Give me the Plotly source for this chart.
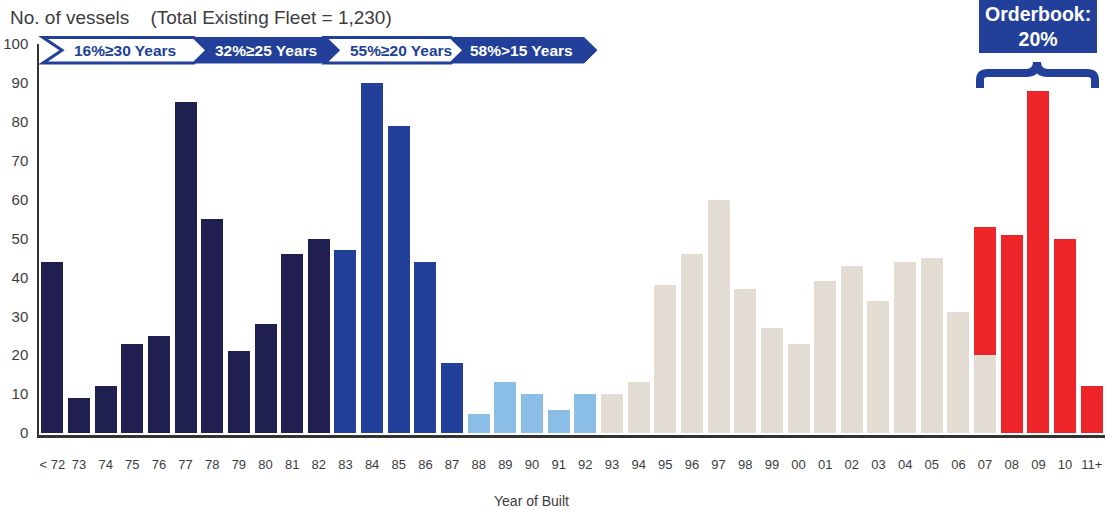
import plotly.graph_objects as go

# ---- data -------------------------------------------------------------
years = ["< 72", "73", "74", "75", "76", "77", "78", "79", "80", "81", "82",
         "83", "84", "85", "86", "87",
         "88", "89", "90", "91", "92",
         "93", "94", "95", "96", "97", "98", "99", "00", "01", "02", "03",
         "04", "05", "06", "07",
         "08", "09", "10", "11+"]

existing = [44, 9, 12, 23, 25, 85, 55, 21, 28, 46, 50,
            47, 90, 79, 44, 18,
            5, 13, 10, 6, 10,
            10, 13, 38, 46, 60, 37, 27, 23, 39, 43, 34,
            44, 45, 31, 20,
            0, 0, 0, 0]

orderbook = [0] * 35 + [33, 51, 88, 50, 12]

# age bands (number of build years in each colour group)
band_sizes = [11, 5, 5, 19]
band_colors = ["#1f1f50", "#22409a", "#8bbee6", "#e2dcd3"]

banner_labels = ["16%≥30 Years", "32%≥25 Years", "55%≥20 Years", "58%>15 Years"]
orderbook_label = "Orderbook:<br>20%"
title_text = "No. of vessels\u00a0\u00a0\u00a0\u00a0(Total Existing Fleet = 1,230)"

# ---- styling ----------------------------------------------------------
BLUE = "#22409a"
RED = "#ee2528"
TEXT = "#3c3c3c"
FONT = "Liberation Sans"

W, H = 1108, 510
L, R, T, B = 39, 3, 44, 75
PW, PH = W - L - R, H - T - B


def px(x):
    return (x - L) / PW


def py(y):
    return (H - B - y) / PH


bar_colors = []
for n, c in zip(band_sizes, band_colors):
    bar_colors += [c] * n

fig = go.Figure()
fig.add_trace(go.Bar(x=years, y=existing, marker=dict(color=bar_colors, line_width=0),
                     hoverinfo="x+y", name="Existing"))
fig.add_trace(go.Bar(x=years, y=orderbook, marker=dict(color=RED, line_width=0),
                     hoverinfo="x+y", name="Orderbook"))

shapes = []
annotations = []

# chevron banner of fleet age bands
top, bot, mid = 37.5, 63, 50.25
bounds = [43, 194, 325, 451, 584]
label_centers = [125, 266, 401, 521]
depth = 13
for i, label in enumerate(banner_labels):
    x0, x1 = bounds[i], bounds[i + 1]
    notch = 19 if i == 0 else depth
    pts = [(x0, top), (x1, top), (x1 + depth, mid), (x1, bot), (x0, bot), (x0 + notch, mid)]
    path = "M " + " L ".join(f"{px(a):.5f},{py(b):.5f}" for a, b in pts) + " Z"
    outlined = i % 2 == 0
    shapes.append(dict(type="path", xref="paper", yref="paper", path=path,
                       fillcolor="white" if outlined else BLUE,
                       line=dict(color=BLUE, width=3 if outlined else 1)))
    annotations.append(dict(xref="paper", yref="paper", x=px(label_centers[i]), y=py(mid),
                            text=f"<b>{label}</b>", showarrow=False,
                            xanchor="center", yanchor="middle",
                            font=dict(family=FONT, size=15.5,
                                      color=BLUE if outlined else "white")))

# orderbook callout box and brace
shapes.append(dict(type="rect", xref="paper", yref="paper",
                   x0=px(979), x1=px(1097), y0=py(0), y1=py(53),
                   fillcolor=BLUE, line_width=0))
annotations.append(dict(xref="paper", yref="paper", x=px(1038), y=py(26),
                        text=f"<b>{orderbook_label}</b>", showarrow=False,
                        xanchor="center", yanchor="middle", align="center",
                        font=dict(family=FONT, size=19.5, color="white")))

brace_pts = [("M", [(980, 88)]), ("L", [(980, 80)]), ("Q", [(980, 73), (988, 73)]),
             ("L", [(1026, 73)]), ("Q", [(1037, 73), (1037, 62)]),
             ("Q", [(1037, 73), (1048, 73)]), ("L", [(1087, 73)]),
             ("Q", [(1095, 73), (1095, 80)]), ("L", [(1095, 88)])]
brace = " ".join(cmd + " " + " ".join(f"{px(a):.5f},{py(b):.5f}" for a, b in p)
                 for cmd, p in brace_pts)
shapes.append(dict(type="path", xref="paper", yref="paper", path=brace,
                   line=dict(color=BLUE, width=8)))

# title and x-axis caption
annotations.append(dict(xref="paper", yref="paper", x=px(8), y=py(17),
                        text=title_text, showarrow=False,
                        xanchor="left", yanchor="middle",
                        font=dict(family=FONT, size=19, color=TEXT)))
annotations.append(dict(xref="paper", yref="paper", x=px(531), y=py(501),
                        text="Year of Built", showarrow=False,
                        xanchor="center", yanchor="middle",
                        font=dict(family=FONT, size=14, color=TEXT)))

fig.update_layout(
    width=W, height=H,
    margin=dict(l=L, r=R, t=T, b=B, pad=0),
    paper_bgcolor="white", plot_bgcolor="white",
    barmode="stack", bargap=0.175,
    showlegend=False,
    shapes=shapes, annotations=annotations,
    font=dict(family=FONT, color=TEXT),
)
fig.update_xaxes(type="category", range=[-0.5, len(years) - 0.5],
                 showline=True, linecolor="#333333", linewidth=2.5,
                 showgrid=False, zeroline=False, ticks="",
                 tickfont=dict(family=FONT, size=13, color=TEXT),
                 ticklabelstandoff=16, fixedrange=True)
fig.update_yaxes(range=[-0.5, 100], tickvals=list(range(0, 101, 10)),
                 showline=True, linecolor="#333333", linewidth=1.5,
                 showgrid=False, zeroline=False, ticks="",
                 tickfont=dict(family=FONT, size=15, color=TEXT),
                 ticklabelstandoff=6, fixedrange=True)

fig.write_html("out.html")
